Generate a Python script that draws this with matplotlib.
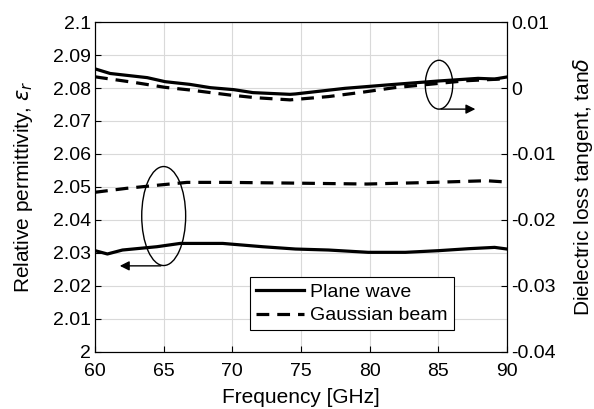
import matplotlib
matplotlib.use("Agg")
import matplotlib.pyplot as plt
from matplotlib.patches import Ellipse

plt.rcParams['font.family'] = ['Liberation Sans', 'DejaVu Sans']
plt.rcParams['axes.unicode_minus'] = False
plt.rcParams['mathtext.fontset'] = 'dejavusans'

# permittivity (left axis)
freq_eps = [60, 60.9, 62, 64.5, 66.2, 69.3, 72.2, 74.6, 77, 79.9, 82.6, 85, 87.2, 89.1, 90]
eps_plane = [2.0307, 2.0297, 2.0309, 2.0319, 2.0329, 2.0329, 2.0319, 2.0312, 2.0309,
             2.0302, 2.0302, 2.0307, 2.0313, 2.0317, 2.0312]
freq_eps_g = [60, 62.3, 64.7, 66.7, 69.6, 74, 79.8, 84.6, 88.5, 90]
eps_gauss = [2.0484, 2.0496, 2.0506, 2.0514, 2.0514, 2.0512, 2.0509, 2.0514, 2.0519, 2.0515]

# loss tangent (right axis)
freq_tan = [60, 61.1, 63.8, 65.1, 66.9, 68.4, 70.1, 71.5, 74.2, 74.6, 78.2, 81.8, 85.0, 87.9, 89.1, 90]
tan_plane = [0.0029, 0.0022, 0.00157, 0.00096, 0.00055, 0.00005, -0.00025, -0.0007, -0.00096,
             -0.0009, -0.00005, 0.00055, 0.00106, 0.00146, 0.00136, 0.00167]
freq_tan_g = [60, 60.4, 62.8, 65.1, 66.9, 69.8, 71.7, 74.2, 77, 79.4, 81.8, 84.3, 87, 90]
tan_gauss = [0.0017, 0.00157, 0.00086, 0.0001, -0.0003, -0.00106, -0.00147, -0.0018, -0.0013,
             -0.00066, 0.00005, 0.00055, 0.0011, 0.0014]

fig = plt.figure(figsize=(5.94, 4.09), dpi=100)
ax = fig.add_axes([0.16, 0.1394, 0.6935, 0.8068])
ax2 = ax.twinx()

ax.plot(freq_eps, eps_plane, 'k-', lw=2.3, label='Plane wave')
ax.plot(freq_eps_g, eps_gauss, 'k--', lw=2.3, dashes=(4, 2.5), label='Gaussian beam')
ax2.plot(freq_tan, tan_plane, 'k-', lw=2.3)
ax2.plot(freq_tan_g, tan_gauss, 'k--', lw=2.3, dashes=(4, 2.5))

ax.set_xlim(60, 90)
ax.set_ylim(2.0, 2.1)
ax2.set_ylim(-0.04, 0.01)
ax.set_xticks([60, 65, 70, 75, 80, 85, 90])
ax.set_yticks([2.0, 2.01, 2.02, 2.03, 2.04, 2.05, 2.06, 2.07, 2.08, 2.09, 2.1])
ax.set_yticklabels(['2', '2.01', '2.02', '2.03', '2.04', '2.05', '2.06', '2.07', '2.08', '2.09', '2.1'])
ax2.set_yticks([-0.04, -0.03, -0.02, -0.01, 0, 0.01])
ax2.set_yticklabels(['-0.04', '-0.03', '-0.02', '-0.01', '0', '0.01'])

ax.grid(True, color='#d9d9d9', lw=0.8)
ax.set_axisbelow(True)
for a in (ax, ax2):
    a.tick_params(direction='in', labelsize=14, length=4, width=0.8, pad=3)
    for s in a.spines.values():
        s.set_linewidth(0.8)
ax.tick_params(axis='x', pad=8)

ax.set_xlabel('Frequency [GHz]', fontsize=15, labelpad=6)
ax.set_ylabel(r'Relative permittivity, $\epsilon_r$', fontsize=15, labelpad=13)
ax2.set_ylabel(r'Dielectric loss tangent, tan$\delta$', fontsize=15, labelpad=11)

# annotation ellipses and arrows
ax.add_patch(Ellipse((65.0, 2.0412), 3.2, 0.030, fill=False, ec='k', lw=1))
ax.annotate('', xy=(61.6, 2.0261), xytext=(65.0, 2.0261),
            arrowprops=dict(arrowstyle='-|>', color='k', lw=1, mutation_scale=14))
ax2.add_patch(Ellipse((85.05, 0.0005), 2.0, 0.0074, fill=False, ec='k', lw=1))
ax2.annotate('', xy=(87.9, -0.0032), xytext=(85.0, -0.0032),
             arrowprops=dict(arrowstyle='-|>', color='k', lw=1, mutation_scale=14))

leg = ax.legend(loc='lower left', bbox_to_anchor=(0.376, 0.066), fontsize=14,
                fancybox=False, edgecolor='k', framealpha=1, handlelength=2.5,
                borderpad=0.3, labelspacing=0.3, handletextpad=0.3, borderaxespad=0)
leg.get_frame().set_linewidth(0.8)

fig.savefig('out.png', dpi=100)
